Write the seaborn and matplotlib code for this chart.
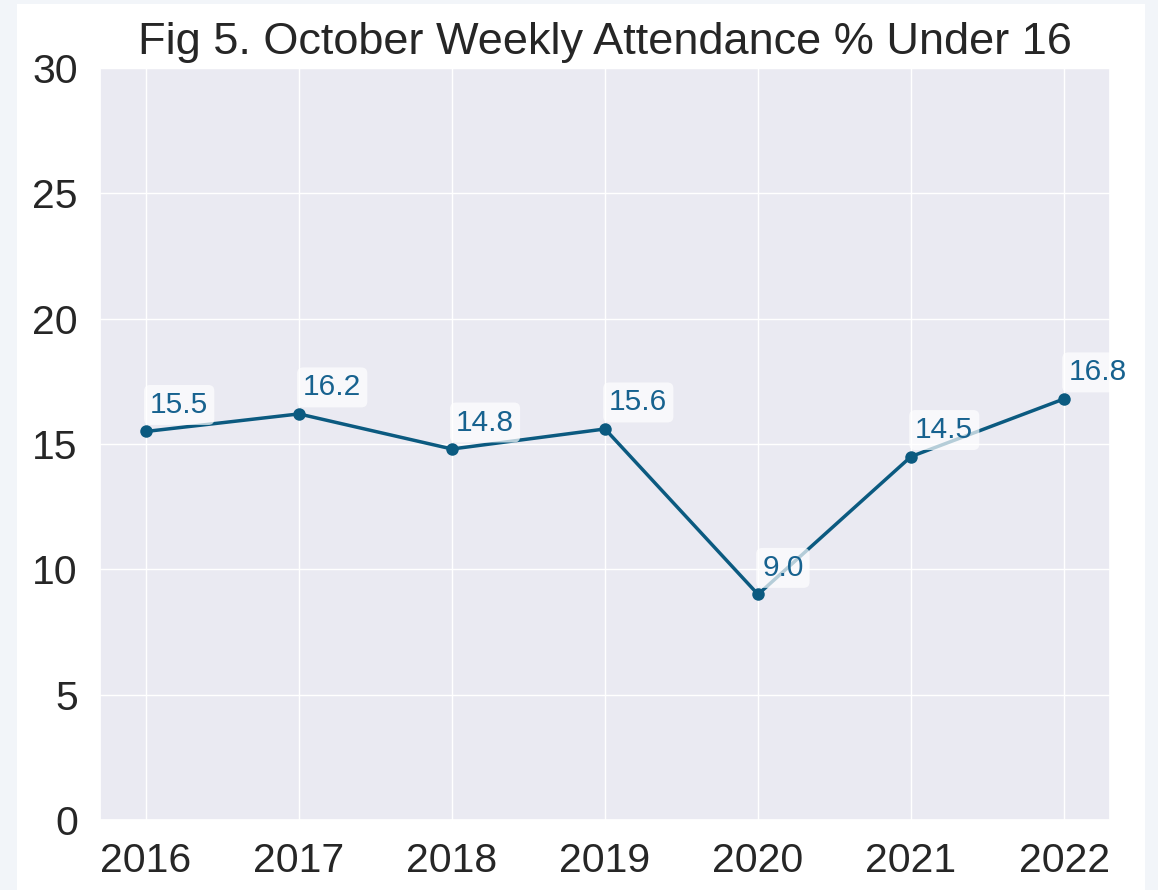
import matplotlib
matplotlib.use("Agg")
import matplotlib.pyplot as plt
import seaborn as sns
import pandas as pd
from matplotlib.patches import Rectangle

# values
years = [2016, 2017, 2018, 2019, 2020, 2021, 2022]
attendance = [15.5, 16.2, 14.8, 15.6, 9.0, 14.5, 16.8]

LINE_COLOR = "#0b5a80"
LABEL_COLOR = "#17628f"

sns.set_theme(style="darkgrid")
plt.rcParams["font.family"] = ["Liberation Sans", "DejaVu Sans"]

df = pd.DataFrame({"year": years, "pct": attendance})

fig = plt.figure(figsize=(11.58, 8.9), dpi=100, facecolor="#f2f5f9")
# white card the chart sits on
fig.patches.append(Rectangle((17 / 1158, 0), (1145 - 17) / 1158, 886 / 890,
                             transform=fig.transFigure, facecolor="white",
                             edgecolor="none", zorder=-1))
ax = fig.add_axes([100 / 1158, 1 - 820 / 890, 1010 / 1158, 752 / 890])

sns.lineplot(data=df, x="year", y="pct", ax=ax, color=LINE_COLOR,
             linewidth=2.5, marker="o", markersize=9, markeredgewidth=0)

for x, y in zip(years, attendance):
    ax.annotate(f"{y:.1f}", (x, y), xytext=(3, 9), textcoords="offset points",
                ha="left", va="bottom", fontsize=21.5, color=LABEL_COLOR,
                bbox=dict(boxstyle="round,pad=0.2", facecolor="white",
                          edgecolor="none", alpha=0.7))

ax.set_ylim(0, 30)
ax.set_yticks(range(0, 31, 5))
ax.set_xticks(years)
ax.set_xlabel("")
ax.set_ylabel("")
ax.tick_params(axis="both", labelsize=29.5, colors="#262626")
ax.tick_params(axis="y", pad=10)
ax.tick_params(axis="x", pad=10)
ax.set_title("Fig 5. October Weekly Attendance % Under 16", fontsize=32.5,
             color="#262626", pad=10)

fig.savefig("out.png", dpi=100, facecolor=fig.get_facecolor())
